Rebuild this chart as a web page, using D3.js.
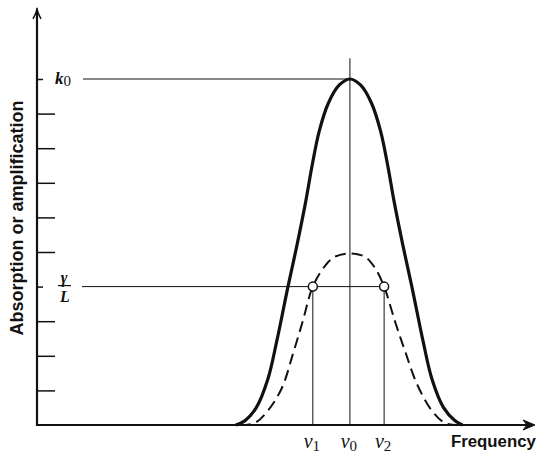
<!DOCTYPE html>
<html>
<head>
<meta charset="utf-8">
<script src="https://cdn.jsdelivr.net/npm/d3@7"></script>
<style>
  body { margin: 0; background: #fff; }
  svg { display: block; }
</style>
</head>
<body>
<div id="chart"></div>
<script>
// Frequency in units of the nu1..nu0 spacing, nu0 = 0; value in tick steps (k0 = 10)
var solidFreq = [-3.17, -2.92, -2.6, -2.28, -2.03, -1.72, -1.47, -1.22, -1.05, -0.85, -0.6, -0.3, 0,
                 0.3, 0.6, 0.85, 1.05, 1.22, 1.47, 1.72, 2.03, 2.28, 2.6, 2.92, 3.13];
var solidVal  = [0, 0.12, 0.5, 1.32, 2.43, 4.0, 5.2, 6.5, 7.5, 8.5, 9.3, 9.82, 10,
                 9.82, 9.3, 8.5, 7.5, 6.5, 5.2, 4.0, 2.43, 1.32, 0.5, 0.12, 0];

var dashFreq = [-3.06, -2.64, -2.28, -1.89, -1.58, -1.31, -1.03, -0.69, -0.42, 0,
                0.42, 0.69, 0.95, 1.25, 1.53, 1.86, 2.28, 2.64, 2.97];
var dashVal  = [0, 0.06, 0.41, 1.07, 2.06, 3.0, 4.0, 4.6, 4.86, 4.96,
                4.86, 4.55, 4.0, 3.0, 2.14, 1.19, 0.41, 0.06, 0];

var longTicks = [1, 2, 3, 5, 6, 7, 8, 9];
var shortTicks = [4, 10];
var k0 = 10, gammaL = 4;
var nuPoints = [-1.03, 0, 0.95];
var nuNames = ["1", "0", "2"];

var svg = d3.select("#chart").append("svg")
    .attr("width", 537)
    .attr("height", 454);

var xScale = d3.scaleLinear().domain([-8.69, 5.14]).range([37, 535]);
var yScale = d3.scaleLinear().domain([0, 10]).range([425, 79]);

var solid = solidFreq.map(function(f, i) { return [f, solidVal[i]]; });
var dashed = dashFreq.map(function(f, i) { return [f, dashVal[i]]; });

var line = d3.line()
    .x(function(d) { return xScale(d[0]); })
    .y(function(d) { return yScale(d[1]); })
    .curve(d3.curveCatmullRom.alpha(0.5));

var x0 = xScale.range()[0];

// Ticks on the inside of the y axis
svg.append("g")
    .attr("transform", "translate(" + x0 + ",0)")
    .call(d3.axisRight(yScale).tickValues(longTicks).tickSize(18).tickFormat(""))
    .call(function(g) { g.select(".domain").remove(); })
    .selectAll("line").attr("stroke", "#111").attr("stroke-width", 1.5);

svg.append("g")
    .attr("transform", "translate(" + x0 + ",0)")
    .call(d3.axisRight(yScale).tickValues(shortTicks).tickSize(6).tickFormat(""))
    .call(function(g) { g.select(".domain").remove(); })
    .selectAll("line").attr("stroke", "#111").attr("stroke-width", 1.5);

// Thin guide lines
var guides = svg.append("g").attr("stroke", "#111").attr("stroke-width", 1).attr("fill", "none");
guides.append("line")
    .attr("x1", x0 + 46).attr("x2", xScale(0))
    .attr("y1", yScale(k0)).attr("y2", yScale(k0));
guides.append("line")
    .attr("x1", x0 + 45).attr("x2", xScale(nuPoints[2]))
    .attr("y1", yScale(gammaL)).attr("y2", yScale(gammaL));
guides.append("line")
    .attr("x1", xScale(0)).attr("x2", xScale(0))
    .attr("y1", yScale(0)).attr("y2", yScale(10.6));
guides.selectAll(".nu")
    .data([nuPoints[0], nuPoints[2]])
    .enter()
    .append("line")
    .attr("x1", function(d) { return xScale(d); })
    .attr("x2", function(d) { return xScale(d); })
    .attr("y1", yScale(0))
    .attr("y2", yScale(gammaL));

// Curves
svg.append("path")
    .datum(dashed)
    .attr("d", line)
    .attr("fill", "none")
    .attr("stroke", "#111")
    .attr("stroke-width", 2)
    .attr("stroke-dasharray", "11,6");

svg.append("path")
    .datum(solid)
    .attr("d", line)
    .attr("fill", "none")
    .attr("stroke", "#111")
    .attr("stroke-width", 3.2);

// Open circles at nu1 and nu2
svg.selectAll(".pt")
    .data([nuPoints[0], nuPoints[2]])
    .enter()
    .append("circle")
    .attr("cx", function(d) { return xScale(d); })
    .attr("cy", yScale(gammaL))
    .attr("r", 4.5)
    .attr("fill", "#fff")
    .attr("stroke", "#111")
    .attr("stroke-width", 1.5);

// Axes with arrows
svg.append("line")
    .attr("x1", x0).attr("x2", x0)
    .attr("y1", yScale(0) + 1).attr("y2", yScale(12.0))
    .attr("stroke", "#111").attr("stroke-width", 2.2);
svg.append("path")
    .attr("d", "M" + (x0 - 4) + "," + (yScale(12.0) + 9) + " Q" + x0 + "," + (yScale(12.0) + 2) + " " + x0 + "," + (yScale(12.0) - 2) +
               " Q" + x0 + "," + (yScale(12.0) + 2) + " " + (x0 + 4) + "," + (yScale(12.0) + 9))
    .attr("fill", "none").attr("stroke", "#111").attr("stroke-width", 1.5);

var xEnd = xScale.range()[1];
svg.append("line")
    .attr("x1", x0 - 1).attr("x2", xEnd - 2)
    .attr("y1", yScale(0)).attr("y2", yScale(0))
    .attr("stroke", "#111").attr("stroke-width", 2.2);
svg.append("path")
    .attr("d", "M" + (xEnd - 12) + "," + (yScale(0) - 5) + " L" + xEnd + "," + yScale(0) + " L" + (xEnd - 12) + "," + (yScale(0) + 5) +
               " L" + (xEnd - 8) + "," + yScale(0) + " Z")
    .attr("fill", "#111").attr("stroke", "#111").attr("stroke-width", 1);

// Labels
var serif = "'Liberation Serif', 'DejaVu Serif', serif";
var sans = "'Liberation Sans', Arial, sans-serif";

var k0Label = svg.append("text")
    .attr("x", x0 + 18).attr("y", yScale(k0) + 5)
    .attr("font-family", serif).attr("font-size", 17).attr("fill", "#111");
k0Label.append("tspan").attr("font-style", "italic").attr("font-weight", "bold").text("k");
k0Label.append("tspan").attr("font-size", 15).attr("dy", 2).text("0");

svg.append("text")
    .attr("x", x0 + 27).attr("y", yScale(gammaL) - 4)
    .attr("text-anchor", "middle")
    .attr("font-family", serif).attr("font-style", "italic").attr("font-weight", "bold")
    .attr("font-size", 16).attr("fill", "#111")
    .text("γ");
svg.append("line")
    .attr("x1", x0 + 21).attr("x2", x0 + 34)
    .attr("y1", yScale(gammaL) - 1).attr("y2", yScale(gammaL) - 1)
    .attr("stroke", "#111").attr("stroke-width", 1.2);
svg.append("text")
    .attr("x", x0 + 28).attr("y", yScale(gammaL) + 15)
    .attr("text-anchor", "middle")
    .attr("font-family", serif).attr("font-style", "italic").attr("font-weight", "bold")
    .attr("font-size", 16).attr("fill", "#111")
    .text("L");

svg.selectAll(".nulabel")
    .data(nuPoints)
    .enter()
    .append("text")
    .attr("x", function(d) { return xScale(d) - 1; })
    .attr("y", yScale(0) + 23)
    .attr("text-anchor", "middle")
    .attr("font-family", serif).attr("font-size", 20).attr("fill", "#111")
    .each(function(d, i) {
        var t = d3.select(this);
        t.append("tspan").attr("font-style", "italic").text("ν");
        t.append("tspan").attr("font-size", 15).attr("dy", 3).text(nuNames[i]);
    });

svg.append("text")
    .attr("x", 451).attr("y", yScale(0) + 22)
    .attr("font-family", sans).attr("font-size", 16.8).attr("font-weight", "bold")
    .attr("fill", "#111")
    .text("Frequency");

svg.append("text")
    .attr("transform", "translate(23," + 218 + ") rotate(-90)")
    .attr("text-anchor", "middle")
    .attr("font-family", sans).attr("font-size", 18).attr("font-weight", "bold")
    .attr("fill", "#111")
    .text("Absorption or amplification");
</script>
</body>
</html>
